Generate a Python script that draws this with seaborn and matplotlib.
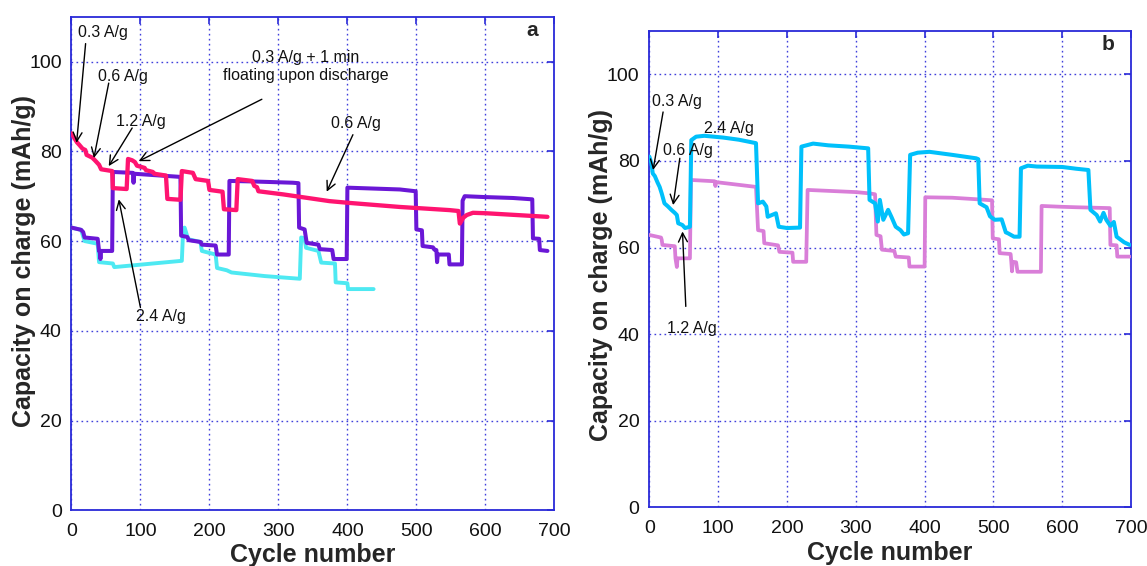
import matplotlib
matplotlib.use("Agg")
import matplotlib.pyplot as plt
import numpy as np
import pandas as pd
import seaborn as sns

# ---------------- data: panel a ----------------
a_float_cycle = [0, 4, 8, 11, 16, 20, 22, 30, 34, 40, 43, 59, 60, 80, 82, 88, 92, 95, 106, 108,
                 118, 120, 137, 139, 158, 160, 176, 180, 198, 200, 219, 221, 239, 241, 262, 265,
                 269, 271, 307, 374, 403, 476, 548, 561, 563, 568, 573, 582, 601, 690]
a_float_cap = [84.0, 83.0, 82.0, 81.5, 80.6, 80.3, 79.2, 78.6, 78.0, 77.0, 76.0, 75.6, 71.8, 71.6,
               78.3, 78.0, 77.6, 76.8, 76.3, 75.8, 75.4, 75.0, 74.6, 69.4, 69.2, 75.6, 75.2, 73.8,
               73.4, 71.4, 71.0, 67.1, 66.9, 73.8, 73.4, 72.3, 72.0, 71.1, 70.4, 68.9, 68.5, 67.6,
               66.9, 66.7, 63.9, 65.2, 65.8, 66.3, 66.2, 65.4]

a_rate_cycle = [0, 14, 17, 19, 38, 40, 41, 42, 43, 59, 60, 89, 90, 91, 158, 159, 168, 170, 187,
                189, 209, 211, 228, 229, 259, 321, 329, 330, 338, 341, 358, 360, 378, 380, 399,
                400, 476, 499, 500, 508, 509, 524, 526, 529, 530, 531, 547, 548, 566, 567, 570,
                600, 640, 668, 669, 678, 679, 690]
a_rate_cap = [63.0, 62.5, 62.0, 60.8, 60.5, 57.8, 57.8, 56.0, 57.8, 57.8, 75.4, 75.2, 73.0, 75.0,
              74.3, 61.2, 60.9, 60.2, 59.8, 59.2, 59.0, 57.0, 57.0, 73.4, 73.3, 73.0, 72.9, 63.0,
              62.6, 59.6, 59.2, 58.2, 58.0, 56.0, 56.0, 71.9, 71.5, 71.1, 62.6, 62.4, 58.9, 58.6,
              58.1, 58.0, 55.3, 57.0, 57.0, 54.8, 54.8, 69.0, 70.0, 69.8, 69.6, 69.3, 60.6, 60.5,
              58.0, 57.8]

a_ref_cycle = [0, 14, 17, 19, 38, 40, 60, 62, 160, 162, 164, 168, 170, 187, 189, 209, 211, 225,
               232, 280, 331, 333, 338, 340, 358, 362, 382, 383, 400, 401, 438]
a_ref_cap = [63.0, 62.5, 61.0, 60.0, 59.4, 55.3, 55.0, 54.2, 55.6, 62.8, 63.0, 61.0, 60.4, 59.8,
             57.8, 57.0, 54.0, 53.5, 53.0, 52.2, 51.6, 60.8, 60.6, 58.5, 57.8, 55.2, 55.0, 50.8,
             50.6, 49.3, 49.3]

# ---------------- data: panel b ----------------
b_top_cycle = [0, 3, 5, 8, 12, 15, 18, 22, 27, 32, 37, 40, 42, 48, 52, 59, 61, 68, 80, 107, 130,
               155, 158, 165, 170, 172, 178, 184, 188, 200, 219, 221, 238, 260, 290, 318, 320,
               328, 332, 335, 340, 347, 352, 358, 365, 370, 376, 379, 390, 407, 440, 475, 478,
               480, 490, 495, 502, 512, 518, 521, 530, 538, 540, 550, 563, 600, 620, 638, 641,
               650, 655, 660, 664, 670, 675, 679, 690, 698]
b_top_cap = [81.0, 79.5, 77.1, 76.5, 75.0, 74.0, 72.5, 70.2, 69.5, 68.7, 68.0, 67.5, 65.6, 65.2,
             64.5, 64.8, 84.8, 85.6, 85.8, 85.4, 84.9, 84.1, 70.2, 70.6, 69.5, 67.1, 67.5, 67.9,
             64.8, 64.5, 64.6, 83.3, 84.0, 83.6, 83.3, 82.9, 71.0, 70.2, 66.0, 71.0, 66.4, 68.7,
             67.0, 64.8, 64.0, 63.0, 63.3, 81.4, 81.9, 82.1, 81.4, 80.6, 80.4, 70.2, 69.3, 67.2,
             66.4, 66.5, 63.5, 63.3, 62.5, 62.5, 78.3, 78.9, 78.7, 78.6, 78.2, 77.9, 68.7, 67.5,
             66.0, 68.0, 66.4, 65.0, 65.9, 62.5, 61.2, 60.6]

b_low_cycle = [0, 17, 18, 19, 37, 38, 40, 41, 59, 60.5, 95, 96, 97, 155, 158, 166, 167, 187, 189,
               208, 209, 228, 230, 300, 320, 328, 330, 336, 338, 356, 358, 377, 378, 400, 401,
               440, 480, 498, 499, 508, 509, 525, 526, 527, 528, 533, 535, 569, 570, 600, 620,
               669, 670, 679, 680, 698]
b_low_cap = [62.9, 62.3, 61.8, 60.6, 60.3, 57.5, 55.5, 57.5, 57.5, 75.6, 75.3, 74.2, 75.1, 74.0,
             64.0, 63.8, 61.0, 60.5, 59.0, 58.8, 56.7, 56.7, 73.3, 72.8, 72.5, 72.3, 62.9, 62.6,
             59.5, 59.2, 57.9, 57.7, 55.6, 55.6, 71.6, 71.5, 71.1, 70.9, 62.1, 61.9, 58.7, 58.5,
             56.7, 54.5, 56.7, 56.6, 54.4, 54.4, 69.6, 69.4, 69.3, 69.1, 60.6, 60.5, 57.9, 57.9]

x_ticks = [0, 100, 200, 300, 400, 500, 600, 700]
y_ticks = [0, 20, 40, 60, 80, 100]

# ---------------- style ----------------
sns.set_theme(style="white")
plt.rcParams["font.family"] = ["Liberation Sans", "DejaVu Sans"]

FRAME = "#2a2ad8"
GRID = "#2a2ad8"

fig = plt.figure(figsize=(11.47, 5.66), dpi=100)
ax_a = fig.add_axes([0.0623, 0.0984, 0.4210, 0.8721])
ax_b = fig.add_axes([0.5661, 0.1037, 0.4200, 0.8415])


def draw(ax, cycle, cap, color, lw):
    df = pd.DataFrame({"cycle": cycle, "cap": cap})
    sns.lineplot(data=df, x="cycle", y="cap", ax=ax, sort=False, estimator=None,
                 color=color, linewidth=lw, zorder=3)


def frame(ax, ylab_xy, xlab_y):
    ax.set_xlim(0, 700)
    ax.set_ylim(0, 110)
    ax.set_xticks(x_ticks)
    ax.set_yticks(y_ticks)
    ax.set_xticklabels([str(t) for t in x_ticks])
    ax.set_yticklabels([str(t) for t in y_ticks])
    ax.grid(True, color=GRID, linestyle=(0, (1.2, 2.4)), linewidth=1.0, alpha=0.9)
    for s in ax.spines.values():
        s.set_color(FRAME)
        s.set_linewidth(1.3)
        s.set_visible(True)
    ax.tick_params(axis="both", direction="in", length=5, width=1.2, color=FRAME,
                   labelsize=14, labelcolor="#111111", right=True, top=True)
    ax.tick_params(axis="x", pad=9)
    ax.tick_params(axis="y", pad=7)
    ax.set_xlabel("Cycle number", fontsize=18, fontweight="bold")
    ax.set_ylabel("Capacity on charge (mAh/g)", fontsize=18, fontweight="bold")
    ax.yaxis.set_label_coords(*ylab_xy)
    ax.xaxis.set_label_coords(0.5, xlab_y)


def arrow(ax, tail, head):
    ax.annotate("", xy=head, xytext=tail,
                arrowprops=dict(arrowstyle="->", color="black", lw=1.0,
                                mutation_scale=16, shrinkA=0, shrinkB=0), zorder=5)


TXT = dict(fontsize=11.5, color="#111111", ha="center", va="center", zorder=6)

# ---------------- panel a ----------------
draw(ax_a, a_ref_cycle, a_ref_cap, "#4ee9f2", 2.8)
draw(ax_a, a_rate_cycle, a_rate_cap, "#6a17d6", 2.9)
draw(ax_a, a_float_cycle, a_float_cap, "#ff1470", 3.1)
frame(ax_a, (-0.074, 0.505), -0.066)

ax_a.text(46, 106.4, "0.3 A/g", **TXT)
arrow(ax_a, (20.5, 104.0), (7.5, 81.9))
ax_a.text(75, 96.6, "0.6 A/g", **TXT)
arrow(ax_a, (54, 95.2), (32.5, 78.5))
ax_a.text(101, 86.6, "1.2 A/g", **TXT)
arrow(ax_a, (88, 85.2), (54, 76.7))
ax_a.text(339, 99.0, "0.3 A/g + 1 min\nfloating upon discharge", linespacing=1.25, **TXT)
arrow(ax_a, (276, 91.6), (97.5, 77.8))
ax_a.text(412, 86.3, "0.6 A/g", **TXT)
arrow(ax_a, (408, 83.7), (370, 71.0))
ax_a.text(130, 43.3, "2.4 A/g", **TXT)
arrow(ax_a, (100, 45.2), (68.6, 69.3))
ax_a.text(0.955, 0.972, "a", transform=ax_a.transAxes, fontsize=15, fontweight="bold",
          ha="center", va="center", zorder=6)

# ---------------- panel b ----------------
draw(ax_b, b_low_cycle, b_low_cap, "#d97ed8", 2.7)
draw(ax_b, b_top_cycle, b_top_cap, "#00c0fb", 2.9)
frame(ax_b, (-0.075, 0.488), -0.071)

ax_b.text(40, 93.8, "0.3 A/g", **TXT)
arrow(ax_b, (20, 91.3), (5.5, 77.9))
ax_b.text(56.4, 82.5, "0.6 A/g", **TXT)
arrow(ax_b, (44.3, 80.6), (34.6, 69.8))
ax_b.text(115.6, 87.5, "2.4 A/g", **TXT)
ax_b.text(61.3, 41.4, "1.2 A/g", **TXT)
arrow(ax_b, (53, 46.4), (48.2, 63.7))
ax_b.text(0.952, 0.972, "b", transform=ax_b.transAxes, fontsize=15, fontweight="bold",
          ha="center", va="center", zorder=6)

fig.savefig("out.png", dpi=100, facecolor="white")
